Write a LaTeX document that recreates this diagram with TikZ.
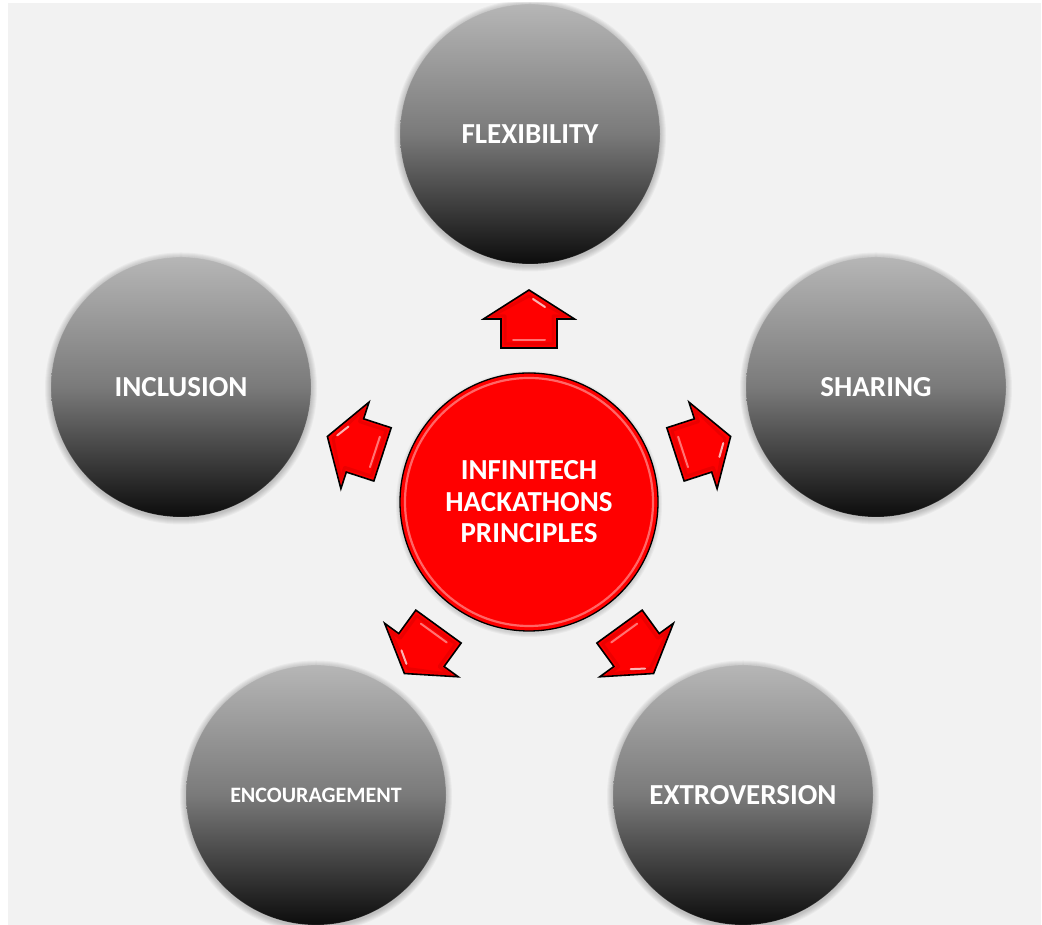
\documentclass[tikz,border=0pt]{standalone}
\usepackage{fontspec}
\setmainfont{Carlito}
\definecolor{bg}{RGB}{242,242,242}
\definecolor{gtop}{RGB}{182,182,182}
\definecolor{gmid}{RGB}{122,122,122}
\definecolor{gbot}{RGB}{12,12,12}
\definecolor{rd}{RGB}{255,0,0}
\definecolor{rdlight}{RGB}{255,120,120}
\definecolor{rddark}{RGB}{200,0,0}
\tikzset{
  graycirc/.style={circle, minimum size=260pt, inner sep=0pt,
    top color=gtop, bottom color=gbot, middle color=gmid,
    draw=white, draw opacity=0.15, line width=0.8pt,
    text=white, align=center, font=\bfseries\fontsize{29}{31}\selectfont},
  smalltext/.style={font=\bfseries\fontsize{22}{24}\selectfont},
  redcirc/.style={circle, minimum size=258pt, inner sep=0pt, fill=rd,
    draw=black, line width=1.3pt, text=white, align=center,
    font=\bfseries\fontsize{29}{31.5}\selectfont},
  arrowshape/.style={fill=rd, draw=black, line width=1.6pt, line join=miter},
  gloss/.style={draw=white, opacity=0.7, line width=2pt, line cap=round},
  bevel/.style={draw=rddark, opacity=0.35, line width=3pt, line join=round},
  shadowring/.style={fill=black, opacity=0.035}
}
\begin{document}
\begin{tikzpicture}[x=1pt,y=1pt]
\useasboundingbox (0,0) rectangle (1042,925);
\fill[white] (0,0) rectangle (1042,925);
\fill[bg] (8,0) rectangle (1041,922);
\clip (8,0) rectangle (1041,922);
% centres
\coordinate (cflex) at (530,791);
\coordinate (cincl) at (181,538);
\coordinate (cshar) at (876,538);
\coordinate (cenc)  at (316,130);
\coordinate (cext)  at (743,130);
\coordinate (ctr)   at (529,423);
% soft shadows
\foreach \p in {cflex,cincl,cshar,cenc,cext}{
  \foreach \d in {1,...,6}{
    \fill[shadowring] ([yshift=-1.5pt]\p) circle (130+\d);
  }
}
\foreach \d in {1,...,4}{
  \fill[shadowring] ([yshift=-2pt]ctr) circle (129+\d);
}
% grey circles
\node[graycirc] (flex) at (cflex) {FLEXIBILITY};
\node[graycirc] (incl) at (cincl) {INCLUSION};
\node[graycirc] (shar) at (cshar) {SHARING};
\node[graycirc, smalltext] (enc) at (cenc) {ENCOURAGEMENT};
\node[graycirc] (ext) at (cext) {EXTROVERSION};
% centre circle
\node[redcirc] (core) at (ctr) {INFINITECH\\HACKATHONS\\PRINCIPLES};
\draw[white, opacity=0.4, line width=2.2pt] (ctr) circle (124);
% arrows
\foreach \r in {0,72,144,216,288}{
  \begin{scope}[shift={(ctr)}, rotate=\r]
    \draw[arrowshape] (0,212) -- (45.5,183) -- (28,183) -- (28,154)
      -- (-28,154) -- (-28,183) -- (-45.5,183) -- cycle;
    \draw[bevel] (0,206) -- (37,186) -- (24,186) -- (24,158)
      -- (-24,158) -- (-24,186) -- (-37,186) -- cycle;
    \draw[gloss] (4,203) -- (16,195);
    \draw[gloss, opacity=0.45] (-16,162) -- (16,162);
  \end{scope}
}
\end{tikzpicture}
\end{document}
